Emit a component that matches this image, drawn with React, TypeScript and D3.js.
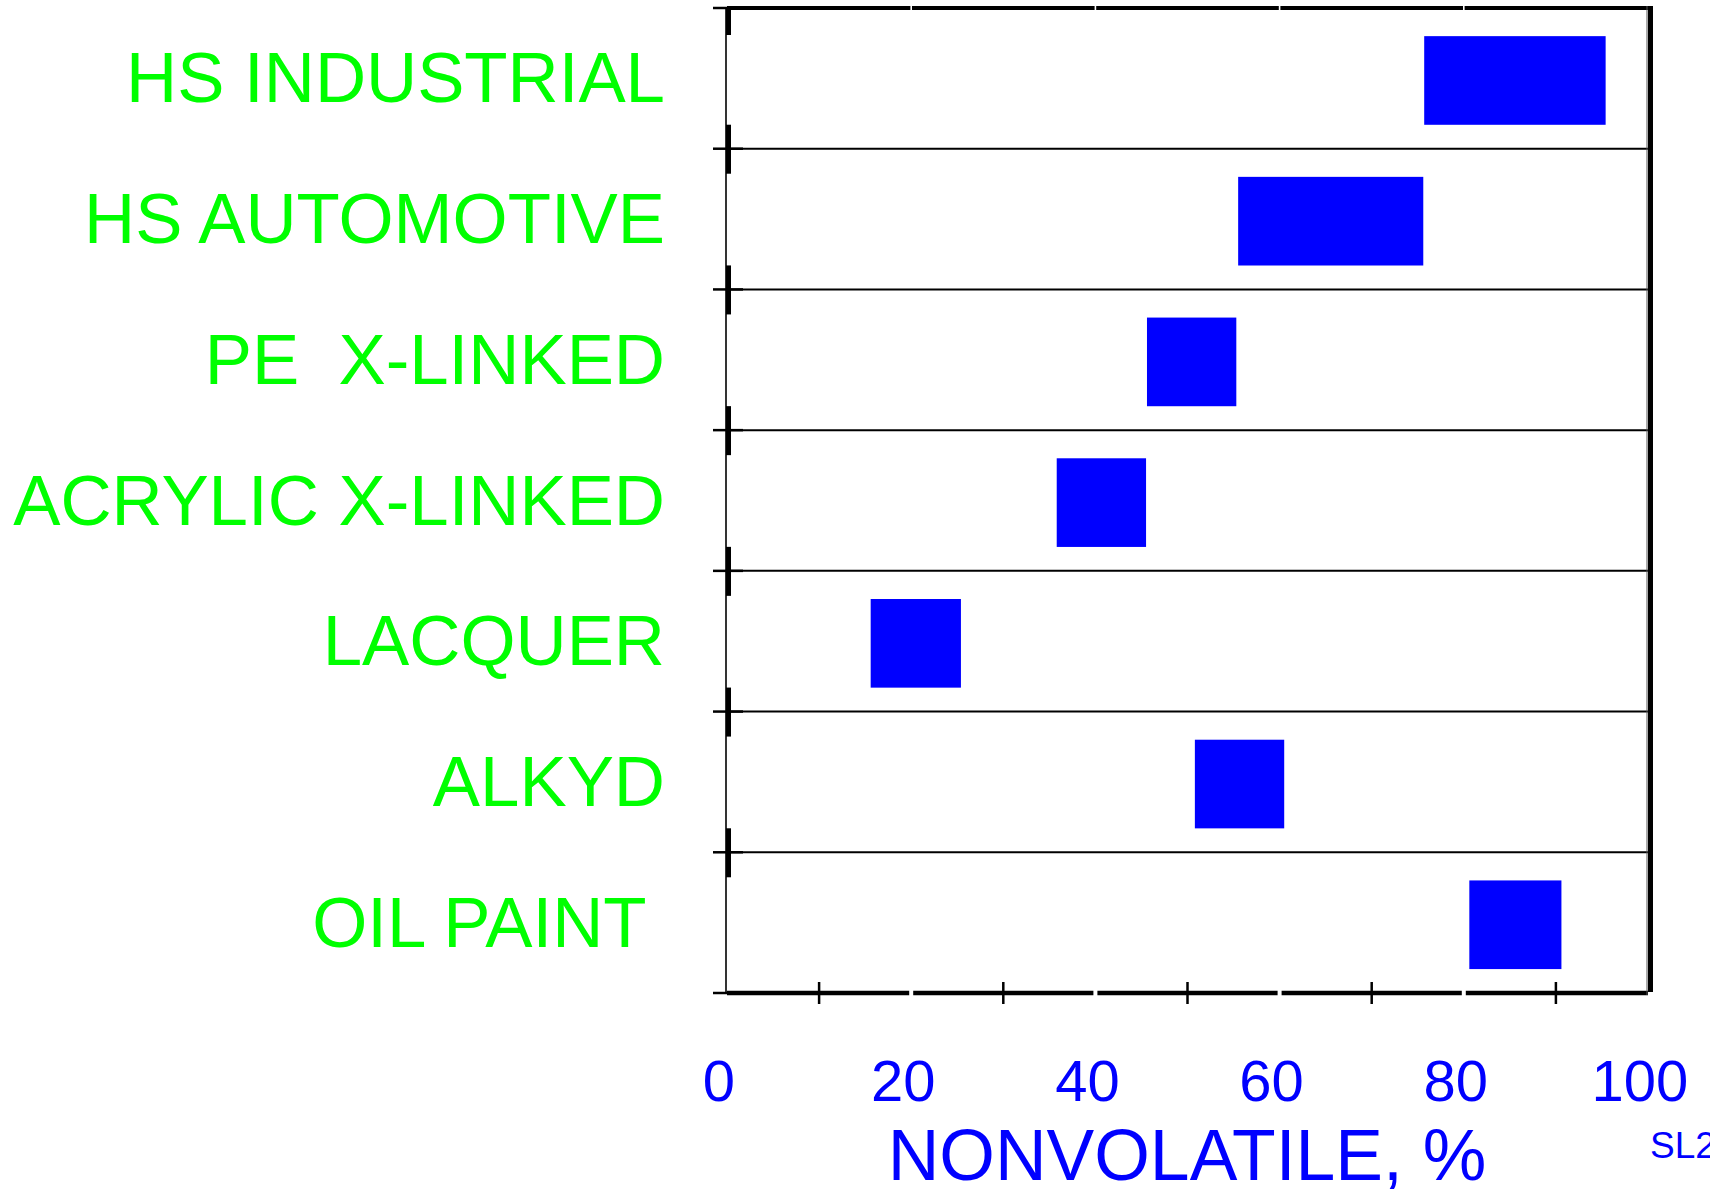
import React from "react";
import * as d3 from "d3";

const categories = [
  "HS INDUSTRIAL",
  "HS AUTOMOTIVE",
  "PE  X-LINKED",
  "ACRYLIC X-LINKED",
  "LACQUER",
  "ALKYD",
  "OIL PAINT ",
];
const rangeStart = [75.7, 55.5, 45.6, 35.8, 15.6, 50.8, 80.6];
const rangeEnd = [95.4, 75.6, 55.3, 45.5, 25.4, 60.5, 90.6];
const tickLabels = [0, 20, 40, 60, 80, 100];
const minorTicks = [10, 30, 50, 70, 90];
const gapTicks = [20, 40, 60, 80];
const xTitle = "NONVOLATILE, %";
const corner = "SL2";

const W = 1710;
const H = 1189;
const L = 727;
const R = 1648;
const T = 8;
const B = 993;

export default function App() {
  const x = d3.scaleLinear().domain([0, 100]).range([L, R]);
  const y = d3
    .scaleBand<string>()
    .domain(categories)
    .range([T, B])
    .padding(0);
  const bw = y.bandwidth();
  const boundaries = d3.range(categories.length + 1).map((i) => T + i * bw);

  const edges = [0, ...gapTicks, 100];
  const segsFor = (g: number) =>
    d3.pairs(edges).map(([a, b], i) => [
      x(a) + (i === 0 ? 0 : g),
      x(b) - (i === edges.length - 2 ? 0 : g),
    ]);
  const botSegs = segsFor(2);
  const topSegs = segsFor(0.8);

  const font = "'Liberation Sans', Arial, Helvetica, sans-serif";

  return (
    <svg
      width={W}
      height={H}
      style={{ position: "absolute", left: 0, top: 0, display: "block", background: "#fff" }}
    >
      <rect x={0} y={0} width={W} height={H} fill="#fff" />
      {categories.map((c, i) => (
        <rect
          key={c}
          x={x(rangeStart[i])}
          width={x(rangeEnd[i]) - x(rangeStart[i])}
          y={(y(c) as number) + bw * 0.2}
          height={bw * 0.63}
          fill="#0000ff"
        />
      ))}
      {boundaries.slice(1, -1).map((b, i) => (
        <line key={"g" + i} x1={L} x2={R} y1={b} y2={b} stroke="#000" strokeWidth={2} />
      ))}
      <line x1={L - 1} x2={L - 1} y1={T} y2={B} stroke="#000" strokeWidth={1.6} />
      {boundaries.map((b, i) => (
        <g key={"t" + i}>
          <line x1={713} x2={i === 0 || i === boundaries.length - 1 ? L : 743} y1={b} y2={b} stroke="#000" strokeWidth={2.5} />
          {i < boundaries.length - 1 && (
            <rect x={L - 1} y={i === 0 ? b : b - 24} width={5} height={i === 0 ? 27 : 49} fill="#000" />
          )}
        </g>
      ))}
      {topSegs.map(([a, b], i) => (
        <line key={"top" + i} x1={a} x2={b} y1={T} y2={T} stroke="#000" strokeWidth={4} />
      ))}
      {botSegs.map(([a, b], i) => (
        <line key={"bot" + i} x1={a} x2={b} y1={B} y2={B} stroke="#000" strokeWidth={4.5} />
      ))}
      <line x1={R - 1} x2={R - 1} y1={T - 2} y2={B + 2} stroke="#555" strokeWidth={1} />
      <line x1={R + 2.5} x2={R + 2.5} y1={T - 2} y2={B - 1} stroke="#000" strokeWidth={5} />
      {minorTicks.map((v) => (
        <line key={"m" + v} x1={x(v)} x2={x(v)} y1={B - 11} y2={B + 11} stroke="#000" strokeWidth={2.5} />
      ))}
      {tickLabels.map((v) => (
        <text
          key={"l" + v}
          x={x(v) - 8}
          y={1101}
          textAnchor="middle"
          fontFamily={font}
          fontSize={58}
          fill="#0000ff"
        >
          {v}
        </text>
      ))}
      {categories.map((c) => (
        <text
          key={"c" + c}
          x={665}
          y={(y(c) as number) + bw / 2 + 24}
          textAnchor="end"
          fontFamily={font}
          fontSize={70.8}
          fill="#00ff00"
          style={{ whiteSpace: "pre" }}
        >
          {c}
        </text>
      ))}
      <text x={1187} y={1180} textAnchor="middle" fontFamily={font} fontSize={71.5} fill="#0000ff">
        {xTitle}
      </text>
      <text x={1650} y={1158} fontFamily={font} fontSize={37} fill="#0000ff">
        {corner}
      </text>
    </svg>
  );
}
